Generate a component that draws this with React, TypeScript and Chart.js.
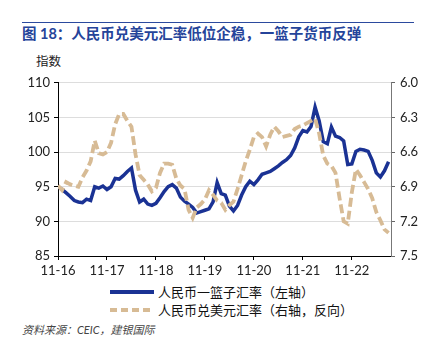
import React, { useEffect, useRef } from "react";
import { Chart, registerables } from "chart.js";

Chart.register(...registerables);

// month index 0 = Nov 2016
const xTickMonths = [0, 12, 24, 36, 48, 60, 72];
const xTickLabels = ["11-16", "11-17", "11-18", "11-19", "11-20", "11-21", "11-22"];

const basketIndex = [
  95.0, 94.6, 94.1, 93.6, 93.0, 92.8, 92.7, 93.2, 93.0, 95.0, 94.8, 95.1,
  94.6, 95.0, 96.2, 96.1, 96.6, 97.2, 97.7, 94.5, 92.8, 93.2, 92.5, 92.3,
  92.6, 93.4, 94.3, 95.0, 95.3, 94.8, 93.5, 92.9, 92.5, 92.0, 91.2, 91.4,
  91.6, 91.8, 92.8, 95.6, 94.0, 93.8, 92.2, 91.5, 92.3, 93.8, 95.0, 95.8,
  95.3, 96.0, 96.8, 97.0, 97.2, 97.6, 98.0, 98.5, 98.9, 99.5, 100.6, 102.2,
  103.1, 102.9, 103.7, 106.5, 104.5, 101.5, 101.2, 103.6, 102.3, 102.1, 101.6, 98.2,
  98.3, 100.1, 100.4, 100.3, 100.1, 98.8, 97.0, 96.4, 97.3, 98.6,
];

const usdCny = [
  6.89, 6.93, 6.86, 6.88, 6.89, 6.9, 6.82, 6.76, 6.68, 6.5, 6.61, 6.62,
  6.6, 6.52, 6.36, 6.27, 6.27, 6.33, 6.38, 6.62, 6.8, 6.84, 6.88, 6.94,
  6.91, 6.78, 6.7, 6.7, 6.71, 6.83, 6.89, 6.92, 7.1, 7.17, 7.08, 7.05,
  7.01, 6.93, 6.97, 7.02, 7.04, 7.1, 7.06, 7.03, 6.92, 6.8, 6.68, 6.58,
  6.47, 6.44, 6.47, 6.55, 6.45, 6.38, 6.42, 6.47, 6.46, 6.45, 6.4, 6.38,
  6.37, 6.35, 6.33, 6.31, 6.44, 6.63, 6.7, 6.72, 6.78, 7.0, 7.2, 7.22,
  6.95, 6.75, 6.8, 6.86, 6.92, 7.0, 7.12, 7.19, 7.27, 7.3,
];

const leftTicks = [85, 90, 95, 100, 105, 110];
const rightTicks = [6.0, 6.3, 6.6, 6.9, 7.2, 7.5];

const BLUE = "#1a3294";
const TAN = "#d7bb95";
const FONT = 'Lato, "Noto Sans CJK SC", sans-serif';

export default function App() {
  const ref = useRef<HTMLCanvasElement | null>(null);

  useEffect(() => {
    if (!ref.current) return;
    const chart = new Chart(ref.current, {
      type: "line",
      data: {
        datasets: [
          {
            label: "人民币一篮子汇率（左轴）",
            data: basketIndex.map((v, i) => ({ x: i, y: v })),
            borderColor: BLUE,
            borderWidth: 3.5,
            pointRadius: 0,
            tension: 0,
            yAxisID: "y",
            order: 1,
          },
          {
            label: "人民币兑美元汇率（右轴，反向）",
            data: usdCny.map((v, i) => ({ x: i, y: v })),
            borderColor: TAN,
            borderWidth: 3.8,
            borderDash: [9, 4],
            pointRadius: 0,
            tension: 0,
            yAxisID: "y1",
            order: 0,
          },
        ],
      },
      options: {
        animation: false,
        responsive: false,
        maintainAspectRatio: false,
        layout: { padding: { top: 12, left: 0, right: 0, bottom: 0 } },
        plugins: { legend: { display: false }, tooltip: { enabled: false } },
        scales: {
          x: {
            type: "linear",
            min: 0,
            max: 81.6,
            afterBuildTicks: (s: any) => {
              s.ticks = xTickMonths.map((v) => ({ value: v }));
            },
            afterFit: (s: any) => {
              s.height = 24;
            },
            ticks: {
              autoSkip: false,
              maxRotation: 0,
              color: "#222",
              font: { family: FONT, size: 13 },
              padding: 3,
              callback: (v: any) => {
                const idx = xTickMonths.indexOf(Number(v));
                return idx >= 0 ? xTickLabels[idx] : "";
              },
            },
            grid: { drawOnChartArea: false, tickLength: 4, tickColor: "#000" },
            border: { display: true, color: "#000", width: 1 },
          },
          y: {
            position: "left",
            min: 85,
            max: 110,
            afterBuildTicks: (s: any) => {
              s.ticks = leftTicks.map((v) => ({ value: v }));
            },
            afterFit: (s: any) => {
              s.width = 58;
            },
            ticks: { color: "#222", font: { family: FONT, size: 13 }, padding: 4 },
            grid: { color: "#dddddd", lineWidth: 1, tickLength: 4, tickColor: "#000" },
            border: { display: true, color: "#000", width: 1 },
          },
          y1: {
            position: "right",
            min: 6.0,
            max: 7.5,
            reverse: true,
            afterBuildTicks: (s: any) => {
              s.ticks = rightTicks.map((v) => ({ value: v }));
            },
            afterFit: (s: any) => {
              s.width = 45;
            },
            ticks: {
              color: "#222",
              font: { family: FONT, size: 13 },
              padding: 5,
              callback: (v: any) => Number(v).toFixed(1),
            },
            grid: { drawOnChartArea: false, tickLength: 4, tickColor: "#666" },
            border: { display: true, color: "#777", width: 1 },
          },
        },
      },
    });
    return () => chart.destroy();
  }, []);

  return (
    <div
      style={{
        position: "fixed",
        left: 0,
        top: 0,
        width: 436,
        height: 355,
        background: "#fff",
        fontFamily: FONT,
        overflow: "hidden",
      }}
    >
      <div style={{ position: "absolute", left: 22, top: 22, width: 392, height: 0, borderTop: "1px solid #2b4a9e" }} />
      <div
        style={{
          position: "absolute",
          left: 22,
          top: 24,
          fontSize: 14.5,
          fontWeight: "bold",
          color: "#25449a",
          whiteSpace: "nowrap",
          lineHeight: "20px",
        }}
      >
        图 18：人民币兑美元汇率低位企稳，一篮子货币反弹
      </div>
      <div style={{ position: "absolute", left: 36, top: 54, fontSize: 12.5, color: "#222", lineHeight: "16px" }}>
        指数
      </div>
      <canvas
        ref={ref}
        width={436}
        height={210}
        style={{ position: "absolute", left: 0, top: 70, width: 436, height: 210 }}
      />
      <div style={{ position: "absolute", left: 110, top: 283, fontSize: 13, color: "#111", lineHeight: "18px" }}>
        <div style={{ display: "flex", alignItems: "center", height: 18 }}>
          <svg width={45} height={8} style={{ marginRight: 3 }}>
            <line x1={0} y1={4} x2={44} y2={4} stroke={BLUE} strokeWidth={4} />
          </svg>
          <span>人民币一篮子汇率（左轴）</span>
        </div>
        <div style={{ display: "flex", alignItems: "center", height: 18 }}>
          <svg width={45} height={8} style={{ marginRight: 3 }}>
            <line x1={0} y1={4} x2={44} y2={4} stroke={TAN} strokeWidth={4} strokeDasharray="7 4" />
          </svg>
          <span>人民币兑美元汇率（右轴，反向）</span>
        </div>
      </div>
      <div
        style={{
          position: "absolute",
          left: 22,
          top: 322,
          fontSize: 11,
          fontStyle: "italic",
          color: "#444",
          whiteSpace: "nowrap",
          lineHeight: "16px",
        }}
      >
        资料来源：CEIC，建银国际
      </div>
    </div>
  );
}
